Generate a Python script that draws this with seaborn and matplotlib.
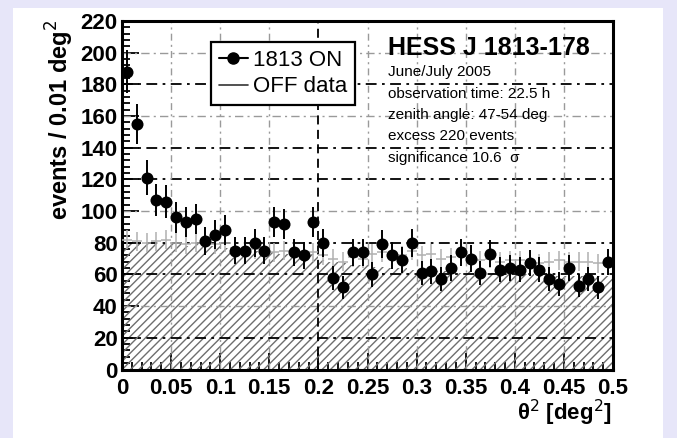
import numpy as np
import pandas as pd
import matplotlib
matplotlib.use("Agg")
import matplotlib.pyplot as plt
import seaborn as sns
from matplotlib.lines import Line2D
from matplotlib.patches import Rectangle

# --- data -------------------------------------------------------------
# theta^2 bins of width 0.01 deg^2 from 0 to 0.5
bin_edges = [round(0.01 * i, 2) for i in range(51)]
bin_centers = [round(0.005 + 0.01 * i, 3) for i in range(50)]

# ON-source counts per bin and their errors
on_counts = [188, 155, 121, 107, 106, 96, 93, 95, 81, 85,
             88, 75, 75, 80, 75, 93, 92, 74, 72, 93,
             80, 58, 52, 74, 74, 60, 79, 72, 69, 80,
             61, 62, 57, 64, 74, 70, 61, 73, 63, 64,
             63, 67, 63, 57, 54, 64, 53, 57, 52, 68]
on_err = [13.7, 12.4, 11.0, 10.3, 10.3, 9.8, 9.6, 9.7, 9.0, 9.2,
          9.4, 8.7, 8.7, 8.9, 8.7, 9.6, 9.6, 8.6, 8.5, 9.6,
          8.9, 7.6, 7.2, 8.6, 8.6, 7.7, 8.9, 8.5, 8.3, 8.9,
          7.8, 7.9, 7.5, 8.0, 8.6, 8.4, 7.8, 8.5, 7.9, 8.0,
          7.9, 8.2, 7.9, 7.5, 7.3, 8.0, 7.3, 7.5, 7.2, 8.2]

# OFF background histogram (hatched) and OFF data points
off_hist = [79, 80, 79, 79, 80, 79, 78, 79, 78, 78,
            77, 76, 76, 75, 74, 74, 73, 73, 74, 73,
            69, 68, 67, 66, 66, 65, 65, 64, 64, 63,
            62, 63, 62, 62, 61, 62, 61, 61, 61, 60,
            60, 60, 59, 60, 59, 59, 59, 58, 59, 59]
off_pts = [82, 81, 80, 81, 82, 80, 79, 80, 79, 79,
           80, 77, 76, 76, 75, 74, 75, 74, 73, 74,
           72, 70, 68, 71, 70, 73, 74, 73, 72, 75,
           72, 73, 70, 71, 73, 70, 69, 70, 68, 69,
           69, 68, 67, 68, 69, 68, 68, 68, 67, 66]
off_err = [6.0] * 50

x_ticks = [0, 0.05, 0.1, 0.15, 0.2, 0.25, 0.3, 0.35, 0.4, 0.45, 0.5]
x_ticklabels = ["0", "0.05", "0.1", "0.15", "0.2", "0.25", "0.3", "0.35", "0.4", "0.45", "0.5"]
y_ticks = [0, 20, 40, 60, 80, 100, 120, 140, 160, 180, 200, 220]

grid_dark_y = [20, 60, 80, 120, 140, 180]
grid_light_y = [40, 100, 160, 200]
grid_dark_x = [0.2]
grid_light_x = [0.05, 0.1, 0.15, 0.25, 0.3, 0.35, 0.4, 0.45]

info_title = "HESS J 1813-178"
info_lines = ["June/July 2005",
              "observation time: 22.5 h",
              "zenith angle: 47-54 deg",
              "excess 220 events",
              "significance 10.6  \u03c3"]

on_df = pd.DataFrame({"theta2": bin_centers, "counts": on_counts, "err": on_err})
off_df = pd.DataFrame({"theta2": bin_centers, "counts": off_hist,
                       "pts": off_pts, "err": off_err})

# --- style ------------------------------------------------------------
sns.set_style("ticks")
fonts = ["Liberation Sans", "DejaVu Sans"]
plt.rcParams["font.family"] = fonts
plt.rcParams["text.color"] = "black"
plt.rcParams["axes.labelcolor"] = "black"
plt.rcParams["xtick.color"] = "black"
plt.rcParams["ytick.color"] = "black"
plt.rcParams["hatch.color"] = "#6e6e6e"
plt.rcParams["hatch.linewidth"] = 1.0

W, H = 677, 438
lavender = "#e7e6f9"
fig = plt.figure(figsize=(W / 100, H / 100), dpi=100)
fig.patch.set_facecolor("white")
# lavender page margin on the left, top and right of the white panel
for (x0, y0, w, h) in [(0, 0, 13, H), (0, H - 8, W, 8), (663, 0, W - 663, H)]:
    fig.patches.append(Rectangle((x0 / W, y0 / H), w / W, h / H,
                                 transform=fig.transFigure, facecolor=lavender,
                                 edgecolor="none", zorder=-10))

ax = fig.add_axes([122 / W, 1 - 369.5 / H, (613 - 122) / W, (369.5 - 21) / H])
ax.set_facecolor("white")
ax.set_zorder(1)

# hatched OFF histogram
sns.histplot(data=off_df, x="theta2", weights="counts", bins=bin_edges,
             element="step", fill=True, ax=ax, color="#6e6e6e", alpha=1.0,
             linewidth=0, zorder=1)
for coll in ax.collections:
    coll.set_facecolor("none")
    coll.set_edgecolor("#6e6e6e")
    coll.set_hatch("////")
    coll.set_linewidth(0)

# grid
for yv in grid_light_y:
    ax.axhline(yv, color="#9a9a9a", lw=1.0, ls=(0, (6, 3, 1.5, 3)), zorder=2)
for yv in grid_dark_y:
    ax.axhline(yv, color="black", lw=1.3, ls=(0, (6, 3, 1.5, 3)), zorder=2)
for xv in grid_light_x:
    ax.axvline(xv, color="#9a9a9a", lw=1.0, ls=(0, (5, 3, 1.5, 3)), zorder=2)
for xv in grid_dark_x:
    ax.axvline(xv, color="black", lw=1.3, ls=(0, (5, 3)), zorder=2)

# OFF data crosses
ax.errorbar(off_df["theta2"], off_df["pts"], yerr=off_df["err"], xerr=0.005,
            fmt="none", ecolor="#b0b0b0", elinewidth=1.1, capsize=0, zorder=3)

# ON data
ax.errorbar(on_df["theta2"], on_df["counts"], yerr=on_df["err"], xerr=0.005,
            fmt="none", ecolor="black", elinewidth=1.4, capsize=0, zorder=4)
sns.scatterplot(data=on_df, x="theta2", y="counts", ax=ax, color="black",
                s=75, edgecolor="black", linewidth=0, zorder=5, legend=False)

ax.set_xlim(0, 0.5)
ax.set_ylim(0, 220)
ax.set_xticks(x_ticks)
ax.set_xticklabels(x_ticklabels)
ax.set_yticks(y_ticks)
ax.set_xticks(np.arange(0, 0.5001, 0.01), minor=True)
ax.set_yticks(np.arange(0, 220.1, 4), minor=True)
ax.tick_params(axis="both", which="both", direction="in", top=False, right=False,
               labelsize=16, width=1.3, colors="black")
ax.tick_params(axis="y", which="major", length=12, pad=3)
ax.tick_params(axis="y", which="minor", length=6)
ax.tick_params(axis="x", which="major", length=12, pad=6)
ax.tick_params(axis="x", which="minor", length=6)
for lab in ax.get_xticklabels() + ax.get_yticklabels():
    lab.set_fontweight("bold")
for sp in ax.spines.values():
    sp.set_visible(True)
    sp.set_linewidth(2.2)
    sp.set_color("black")
ax.set_xlabel("")
ax.set_ylabel("")

# axis titles
fig.text(60 / W, 1 - 20 / H, "events / 0.01 deg$^{2}$", rotation=90,
         ha="center", va="top", fontsize=17, fontweight="bold")
fig.text(612 / W, 1 - 413 / H, "\u03b8$^{2}$ [deg$^{2}$]", ha="right",
         va="center", fontsize=16, fontweight="bold")

# legend
handles = [Line2D([0], [0], color="black", lw=1.5, marker="o", markersize=8),
           Line2D([0], [0], color="#333333", lw=1.2)]
leg = ax.legend(handles, ["1813 ON", "OFF data"], loc="upper left",
                bbox_to_anchor=(211 / W, 1 - 42 / H), bbox_transform=fig.transFigure,
                fontsize=16, frameon=True, fancybox=False, framealpha=1,
                edgecolor="black", borderpad=0.35, handlelength=1.3,
                handletextpad=0.25, labelspacing=0.25, borderaxespad=0)
leg.get_frame().set_linewidth(1.6)
leg.set_zorder(10)

# info text
fig.text(388 / W, 1 - 48 / H, info_title, ha="left", va="center",
         fontsize=18, fontweight="bold", zorder=5)
for i, line in enumerate(info_lines):
    fig.text(388 / W, 1 - (72 + 21.5 * i) / H, line, ha="left", va="center",
             fontsize=11, zorder=5)

fig.savefig("out.png", dpi=100, facecolor=fig.get_facecolor())
